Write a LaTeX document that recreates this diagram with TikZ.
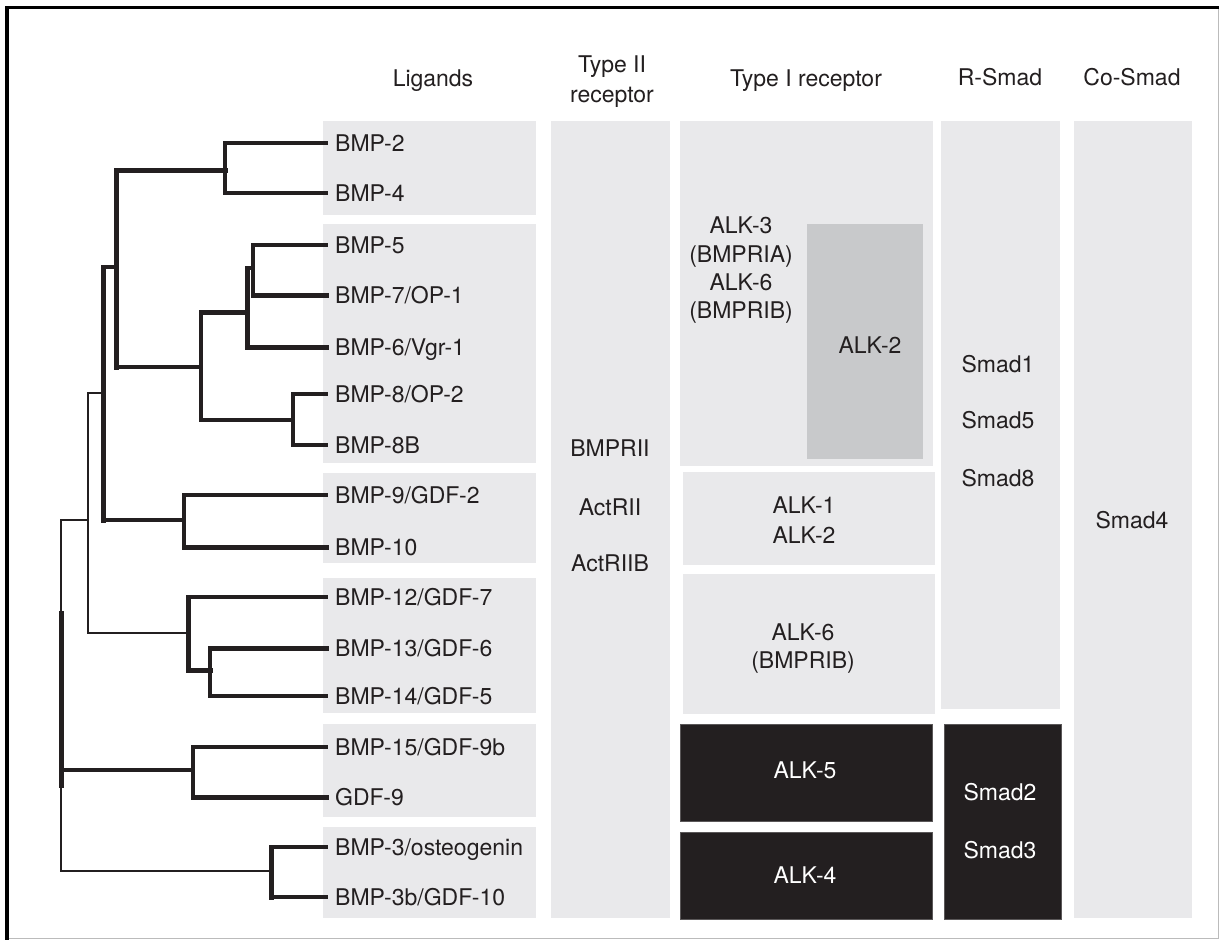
\documentclass[tikz,border=0pt]{standalone}
\usepackage{fontspec}
\setmainfont{TeX Gyre Heros}
\usepackage{xcolor}
\definecolor{BoxGrey}{HTML}{E9E9EB}
\definecolor{InnerGrey}{HTML}{C8C9CB}
\definecolor{Ink}{HTML}{231F20}
\definecolor{FrameGrey}{HTML}{BBBBBB}
\usepackage{tikz}

\begin{document}
\begin{tikzpicture}[x=1pt, y=-1pt,
  lbl/.style={inner sep=0pt, text height=16.5pt, text depth=0pt, text=Ink, font=\fontsize{23}{28}\selectfont},
  lig/.style={lbl, anchor=west, inner xsep=9pt},
  wlbl/.style={lbl, text=white},
  blackbox/.style={fill=Ink, draw=Ink!75!white, line width=0.6pt},
  br/.style={draw=Ink, line width=3.4pt, line cap=rect},
  brthick/.style={br, line width=5pt},
  brthin/.style={br, line width=1.8pt}]
  \useasboundingbox (0,0) rectangle (1219,940);
  \fill[white] (0,0) rectangle (1219,940);

  % frame
  \draw[FrameGrey, line width=1pt] (8,938) -- (1218,938) -- (1218,8);
  \draw[black, line width=3.5pt] (7,940) -- (7,7.5) -- (1219,7.5);

  % column boxes
  \foreach \ya/\yb in {121/215, 224/463, 473/563, 578/713, 724/817, 827/918}
    \fill[BoxGrey] (323,\ya) rectangle (536,\yb);
  \fill[BoxGrey] (551,121) rectangle (670,918);
  \fill[BoxGrey] (680,121) rectangle (933,466);
  \fill[InnerGrey] (807,224) rectangle (923,459);
  \fill[BoxGrey] (683,472) rectangle (935,565);
  \fill[BoxGrey] (683,574) rectangle (935,714);
  \filldraw[blackbox] (680,724) rectangle (932,821);
  \filldraw[blackbox] (680,832) rectangle (932,919);
  \fill[BoxGrey] (941,121) rectangle (1060,709);
  \filldraw[blackbox] (944,724) rectangle (1061,919);
  \fill[BoxGrey] (1074,121) rectangle (1192,918);

  % headers
  \node[lbl] (hlig) at (433,78) {Ligands};
  \node[lbl] (htwoa) at (612,64) {Type II};
  \node[lbl] (htwob) at (612,94) {receptor};
  \node[lbl] (hone) at (806,78) {Type I receptor};
  \node[lbl] (hrsmad) at (1000,77) {R-Smad};
  \node[lbl] (hcosmad) at (1132,77) {Co-Smad};

  % ligands
  \node[lig] (bmp2) at (326,143) {BMP-2};
  \node[lig] (bmp4) at (326,193) {BMP-4};
  \node[lig] (bmp5) at (326,245) {BMP-5};
  \node[lig] (bmp7) at (326,295) {BMP-7/OP-1};
  \node[lig] (bmp6) at (326,347) {BMP-6/Vgr-1};
  \node[lig] (bmp8) at (326,394) {BMP-8/OP-2};
  \node[lig] (bmp8b) at (326,445) {BMP-8B};
  \node[lig] (bmp9) at (326,495) {BMP-9/GDF-2};
  \node[lig] (bmp10) at (326,547) {BMP-10};
  \node[lig] (bmp12) at (326,597) {BMP-12/GDF-7};
  \node[lig] (bmp13) at (326,648) {BMP-13/GDF-6};
  \node[lig] (bmp14) at (326,696) {BMP-14/GDF-5};
  \node[lig] (bmp15) at (326,747) {BMP-15/GDF-9b};
  \node[lig] (gdf9) at (326,797) {GDF-9};
  \node[lig] (bmp3) at (326,847) {BMP-3/osteogenin};
  \node[lig] (bmp3b) at (326,897) {BMP-3b/GDF-10};

  % receptors and smads
  \node[lbl] (bmprii) at (610,448) {BMPRII};
  \node[lbl] (actrii) at (610,507) {ActRII};
  \node[lbl] (actriib) at (610,563) {ActRIIB};
  \node[lbl] (alkthree) at (741,225) {ALK-3};
  \node[lbl] (bmpria) at (741,254) {(BMPRIA)};
  \node[lbl] (alksixa) at (741,282) {ALK-6};
  \node[lbl] (bmpriba) at (741,310) {(BMPRIB)};
  \node[lbl] (alktwoa) at (870,345) {ALK-2};
  \node[lbl] (alkone) at (804,505) {ALK-1};
  \node[lbl] (alktwob) at (804,535) {ALK-2};
  \node[lbl] (alksixb) at (803,632) {ALK-6};
  \node[lbl] (bmpribb) at (803,660) {(BMPRIB)};
  \node[wlbl] (alkfive) at (805,770) {ALK-5};
  \node[wlbl] (alkfour) at (805,875) {ALK-4};
  \node[lbl] (smad1) at (998,364) {Smad1};
  \node[lbl] (smad5) at (998,420) {Smad5};
  \node[lbl] (smad8) at (998,478) {Smad8};
  \node[wlbl] (smad2) at (1000,792) {Smad2};
  \node[wlbl] (smad3) at (1000,850) {Smad3};
  \node[lbl] (smad4) at (1132,520) {Smad4};

  % tree: clade points
  \coordinate (c24) at (225,170);
  \coordinate (c57) at (253,268);
  \coordinate (c576) at (247,312);
  \coordinate (c88) at (293,420);
  \coordinate (c58) at (201,367);
  \coordinate (cA) at (116,267);
  \coordinate (c910) at (184,520);
  \coordinate (cB) at (103,393);
  \coordinate (c1314) at (210,670);
  \coordinate (c1214) at (188,633);
  \coordinate (cC) at (88,520);
  \coordinate (c159) at (193,770);
  \coordinate (c33) at (271,871);
  \coordinate (root) at (61,613);

  % vertical bars
  \foreach \p/\a/\b/\s in {c24/bmp2/bmp4/br, c57/bmp5/bmp7/br, c576/c57/bmp6/brthick,
      c88/bmp8/bmp8b/br, c58/c576/c88/br, cA/c24/c58/brthick, c910/bmp9/bmp10/br,
      cB/cA/c910/brthick, c1314/bmp13/bmp14/br, c1214/bmp12/c1314/brthick,
      cC/cB/c1214/brthin, c159/bmp15/gdf9/br, c33/bmp3/bmp3b/brthick, root/cC/c33/brthin}
    \draw[\s] (\p |- \a) -- (\p |- \b);
  % horizontal edges
  \foreach \p/\c/\s in {c24/bmp2/br, c24/bmp4/br, cA/c24/brthick, c57/bmp5/br,
      c57/bmp7/brthick, c576/c57/br, c576/bmp6/brthick, c58/c576/brthick,
      c88/bmp8/br, c88/bmp8b/br, c58/c88/br, cA/c58/br, cB/cA/br,
      c910/bmp9/br, c910/bmp10/brthick, cB/c910/br, cC/cB/brthin,
      c1214/bmp12/br, c1314/bmp13/brthick, c1314/bmp14/br, c1214/c1314/brthick,
      cC/c1214/brthin, root/cC/brthin, c159/bmp15/br, c159/gdf9/brthick,
      root/c159/br, c33/bmp3/br, c33/bmp3b/br, root/c33/brthin}
    \draw[\s] (\p |- \c) -- (\c);
  \draw[brthick] (root) -- ++(0,172);
\end{tikzpicture}
\end{document}
